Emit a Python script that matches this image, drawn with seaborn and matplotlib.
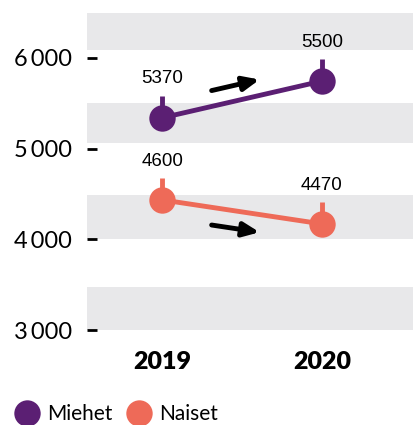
import numpy as np
import pandas as pd
import matplotlib
matplotlib.use("Agg")
import matplotlib.pyplot as plt
import seaborn as sns
from matplotlib.lines import Line2D

# ===== data =====
vuodet = ["2019", "2020"]
miehet = [5340, 5745]
naiset = [4435, 4170]
miehet_tekstit = ["5370", "5500"]
naiset_tekstit = ["4600", "4470"]
y_ticks = [3000, 4000, 5000, 6000]
y_tick_labels = ["3\u2009000", "4\u2009000", "5\u2009000", "6\u2009000"]
bands = [(3000, 3475), (4000, 4490), (5060, 5500), (6090, 6495)]

sarjat = ["Miehet", "Naiset"]
colors = {"Miehet": "#5b1f73", "Naiset": "#ee6a58"}
band_color = "#e8e8ea"

df = pd.DataFrame({
    "pos": list(range(len(vuodet))) * 2,
    "arvo": miehet + naiset,
    "sarja": ["Miehet"] * len(vuodet) + ["Naiset"] * len(vuodet),
})

sns.set_theme(style="white")
plt.rcParams["font.family"] = ["Lato", "DejaVu Sans"]
plt.rcParams["text.color"] = "black"
plt.rcParams["xtick.color"] = "black"
plt.rcParams["ytick.color"] = "black"

fig = plt.figure(figsize=(4.13, 4.25), dpi=100)
ax = fig.add_axes([87 / 413, 0.2, 1 - 87 / 413, 0.788])

# ===== grey bands =====
for lo, hi in bands:
    ax.axhspan(lo, hi, color=band_color, zorder=0, lw=0)

# ===== lines + points =====
sns.lineplot(data=df, x="pos", y="arvo", hue="sarja", palette=colors,
             marker="o", markersize=19, markeredgewidth=0, linewidth=3.5,
             legend=False, ax=ax, zorder=3)

# stems + labels
for vals, texts, name in [(miehet, miehet_tekstit, "Miehet"), (naiset, naiset_tekstit, "Naiset")]:
    for i, (v, t) in enumerate(zip(vals, texts)):
        ax.vlines(i, v + 100, v + 240, color=colors[name], lw=3.5, zorder=2)
        ax.annotate(t, (i, v), xytext=(0, 28), textcoords="offset points",
                    ha="center", va="center", fontsize=13.5, color="black",
                    family=["Liberation Sans", "DejaVu Sans"])

# arrows parallel to lines
for vals, off in [(miehet, 175), (naiset, -195)]:
    x0, x1 = 0.31, 0.61
    slope = vals[1] - vals[0]
    y0 = vals[0] + slope * x0 + off
    y1 = vals[0] + slope * x1 + off
    ax.annotate("", xy=(x1, y1), xytext=(x0, y0),
                arrowprops=dict(arrowstyle="-|>,head_length=0.8,head_width=0.35",
                                color="black", lw=3.5, shrinkA=0, shrinkB=0),
                zorder=4)

ax.set_xlim(-0.47, 1.57)
ax.set_ylim(2890, 6583)
ax.set_yticks(y_ticks)
ax.set_yticklabels(y_tick_labels, fontsize=17)
ax.set_xticks(range(len(vuodet)))
ax.set_xticklabels(vuodet, fontsize=18, fontweight="heavy")
ax.tick_params(axis="y", direction="in", length=7, width=2, pad=11, left=True, color="black")
ax.tick_params(axis="x", length=0, pad=8)
ax.set_xlabel("")
ax.set_ylabel("")
for s in ax.spines.values():
    s.set_visible(False)

# ===== legend =====
handles = [Line2D([], [], marker="o", ls="", markersize=19, markeredgewidth=0,
                  color=colors[s]) for s in sarjat]
fig.legend(handles, sarjat, loc="lower left", bbox_to_anchor=(-0.02, -0.042),
           ncol=2, frameon=False, fontsize=15, handletextpad=0.15,
           columnspacing=0.5, handlelength=1.6)

fig.savefig("out.png", dpi=100)
